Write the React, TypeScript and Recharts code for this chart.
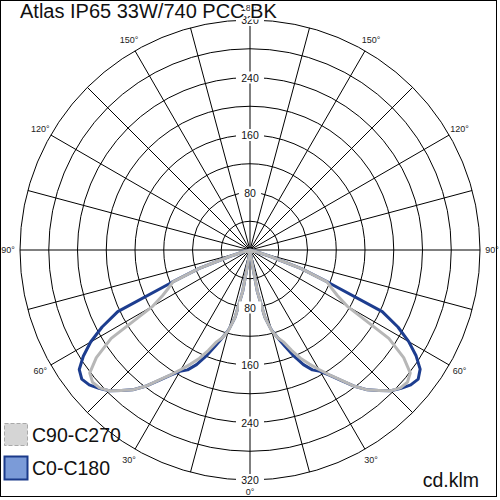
import React from 'react';
import { RadarChart, Radar, PolarGrid, PolarAngleAxis, PolarRadiusAxis } from 'recharts';

// Photometric angle gamma (0 = straight down), 2.5 degree steps
const gammaAngles = [
  0, 2.5, 5, 7.5, 10, 12.5, 15, 17.5, 20, 22.5, 25, 27.5, 30, 32.5, 35, 37.5, 40, 42.5, 45, 47.5,
  50, 52.5, 55, 57.5, 60, 62.5, 65, 67.5, 70, 72.5, 75, 77.5, 80, 82.5, 85, 87.5, 90, 92.5, 95, 97.5,
  100, 102.5, 105, 107.5, 110, 112.5, 115, 117.5, 120, 122.5, 125, 127.5, 130, 132.5, 135, 137.5, 140,
  142.5, 145, 147.5, 150, 152.5, 155, 157.5, 160, 162.5, 165, 167.5, 170, 172.5, 175, 177.5, 180,
];
// cd/klm per half-plane
const c0Values = [
  0, 0, 2, 8, 58, 96, 115, 128, 143, 160, 176, 188, 195, 207, 222, 239, 254, 265, 277, 285,
  292, 295, 289, 274, 255, 232, 203, 118, 76, 30, 8, 0, 0, 0, 0, 0, 0, 0, 0, 0,
  0, 0, 0, 0, 0, 0, 0, 0, 0, 0, 0, 0, 0, 0, 0, 0, 0, 0, 0, 0,
  0, 0, 0, 0, 0, 0, 0, 0, 0, 0, 0, 0, 0,
];
const c180Values = [
  0, 0, 2, 8, 58, 96, 115, 128, 143, 160, 176, 188, 195, 207, 222, 239, 254, 265, 277, 285,
  292, 295, 290, 275, 256, 232, 203, 118, 76, 30, 8, 0, 0, 0, 0, 0, 0, 0, 0, 0,
  0, 0, 0, 0, 0, 0, 0, 0, 0, 0, 0, 0, 0, 0, 0, 0, 0, 0, 0, 0,
  0, 0, 0, 0, 0, 0, 0, 0, 0, 0, 0, 0, 0,
];
const c90Values = [
  0, 0, 2, 8, 58, 96, 116, 128, 136, 151, 166, 179, 192, 206, 221, 239, 254, 265, 277, 284,
  286, 281, 261, 229, 156, 137, 125, 116, 76, 30, 8, 0, 0, 0, 0, 0, 0, 0, 0, 0,
  0, 0, 0, 0, 0, 0, 0, 0, 0, 0, 0, 0, 0, 0, 0, 0, 0, 0, 0, 0,
  0, 0, 0, 0, 0, 0, 0, 0, 0, 0, 0, 0, 0,
];
const c270Values = [
  0, 0, 2, 8, 58, 96, 116, 128, 136, 151, 166, 179, 192, 206, 221, 239, 254, 265, 277, 284,
  286, 281, 261, 229, 156, 137, 125, 116, 76, 30, 8, 0, 0, 0, 0, 0, 0, 0, 0, 0,
  0, 0, 0, 0, 0, 0, 0, 0, 0, 0, 0, 0, 0, 0, 0, 0, 0, 0, 0, 0,
  0, 0, 0, 0, 0, 0, 0, 0, 0, 0, 0, 0, 0,
];

const gridGammas = [0, 15, 30, 45, 60, 75, 90, 105, 120, 135, 150, 165, 180, 195, 210, 225, 240, 255, 270, 285, 300, 315, 330, 345];
const angleLabelGammas = [0, 30, 60, 90, 120, 150, 180];
const radiusLabelValues = [80, 160, 240, 320];
const radiusMax = 320;
const seriesNames = ['C90-C270', 'C0-C180'];
const titleText = 'Atlas IP65 33W/740 PCC BK';
const unitText = 'cd.klm';

const W = 500;
const H = 500;
const CX = 250;
const CY = 250;
const OUTER = 230;
const FONT = '"Liberation Sans", Arial, sans-serif';
const BLUE = '#1d3d8f';
const GRAY = '#b7b7b7';

const n = gammaAngles.length - 1; // 72
const N = 2 * n;
const rows: { k: number; gamma: number; blue: number; gray: number }[] = [];
for (let i = 0; i < N; i++) {
  if (i <= n) {
    rows.push({ k: i, gamma: gammaAngles[i], blue: c0Values[i], gray: c90Values[i] });
  } else {
    const j = N - i;
    rows.push({ k: i, gamma: gammaAngles[j], blue: c180Values[j], gray: c270Values[j] });
  }
}
const gammaByKey: Record<number, number> = {};
rows.forEach((r) => (gammaByKey[r.k] = r.gamma));

const STEP = 360 / N;
const START = -90 - STEP;
const END = START + 360;
// angle-axis ticks sit two categories away from the series points in this setup
const TICK_SHIFT = -2;
const gridAngles = gridGammas.map((g) => -90 + g);

const AngleTick = (props: any) => {
  const { x, y, payload } = props;
  const g = gammaByKey[(payload.value + TICK_SHIFT + N) % N];
  if (!angleLabelGammas.includes(g)) return null;
  return (
    <text x={x} y={y} textAnchor="middle" dominantBaseline="central" fontSize={9} fontFamily={FONT} fill="#222">
      {`${g}°`}
    </text>
  );
};

const RadiusTick = (props: any) => {
  const { x, y, payload } = props;
  if (!radiusLabelValues.includes(payload.value)) return null;
  const label = String(payload.value);
  const w = label.length * 6 + 10;
  const ys = [y, 2 * CY - y];
  return (
    <g>
      {ys.map((yy, idx) => (
        <g key={idx}>
          <rect x={x - w / 2} y={yy - 6} width={w} height={12} fill="#fff" />
          <text x={x} y={yy} textAnchor="middle" dominantBaseline="central" fontSize={10.5} fontFamily={FONT} fill="#111">
            {label}
          </text>
        </g>
      ))}
    </g>
  );
};

export default function App() {
  return (
    <div style={{ position: 'absolute', left: 0, top: 0, width: W, height: H, background: '#fff' }}>
      <RadarChart
        width={W}
        height={H}
        data={rows}
        cx={CX}
        cy={CY}
        outerRadius={OUTER}
        innerRadius={0}
        startAngle={START}
        endAngle={END}
        margin={{ top: 0, right: 0, bottom: 0, left: 0 }}
      >
        <PolarGrid gridType="circle" polarAngles={gridAngles} stroke="#000" strokeOpacity={1} strokeWidth={1} />
        <Radar dataKey="blue" name={seriesNames[1]} stroke={BLUE} strokeWidth={3} fill="none" fillOpacity={0} dot={false} isAnimationActive={false} strokeLinejoin="round" />
        <Radar dataKey="gray" name={seriesNames[0]} stroke={GRAY} strokeWidth={3} fill="none" fillOpacity={0} dot={false} isAnimationActive={false} strokeLinejoin="round" />
        <PolarAngleAxis dataKey="k" axisLine={false} tickLine={false} tickSize={12} tick={<AngleTick />} />
        <PolarRadiusAxis angle={90} type="number" domain={[0, radiusMax]} tickCount={9} axisLine={false} tickLine={false} tick={<RadiusTick />} />
      </RadarChart>
      <svg width={W} height={H} style={{ position: 'absolute', left: 0, top: 0, pointerEvents: 'none' }}>
        <text x={20} y={18} fontSize={20} fontFamily={FONT} fill="#111" stroke="#fff" strokeWidth={3} paintOrder="stroke">
          {titleText}
        </text>
        <rect x={4.5} y={423.5} width={23} height={22} fill="#d5d5d5" stroke="#a9a9a9" strokeDasharray="4 2" />
        <text x={32} y={441.5} fontSize={19.5} fontFamily={FONT} fill="#111">{seriesNames[0]}</text>
        <rect x={4.5} y={456.5} width={23} height={23} fill="#7b9bd8" stroke="#1b3a8a" strokeWidth={2} />
        <text x={32} y={474.5} fontSize={19.5} fontFamily={FONT} fill="#111">{seriesNames[1]}</text>
        <text x={479} y={487} textAnchor="end" fontSize={19.5} fontFamily={FONT} fill="#111">{unitText}</text>
        <rect x={0.5} y={0.5} width={496} height={496} fill="none" stroke="#000" strokeWidth={1} />
      </svg>
    </div>
  );
}
